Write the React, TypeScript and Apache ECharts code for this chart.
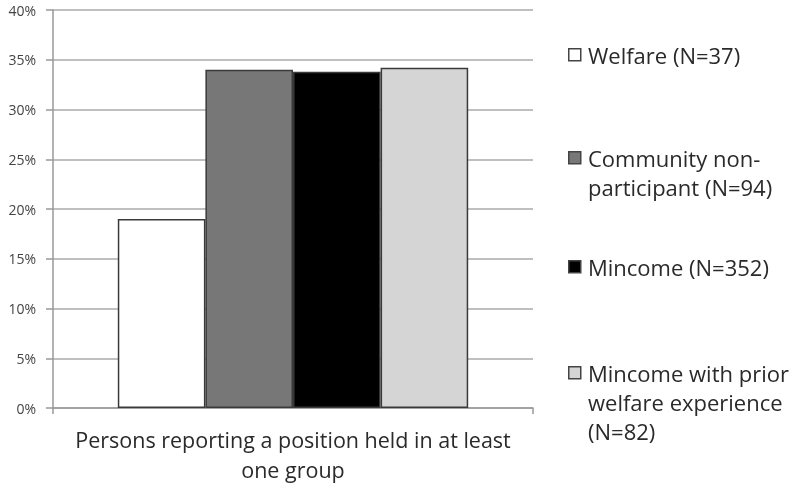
import React, { useEffect, useRef } from "react";
import * as echarts from "echarts";

const categories = ["Persons reporting a position held in at least\none group"];
const seriesNames = [
  "Welfare (N=37)",
  "Community non-\nparticipant (N=94)",
  "Mincome (N=352)",
  "Mincome with prior\nwelfare experience\n(N=82)",
];
const seriesValues = [[0.19], [0.34], [0.338], [0.342]];
const seriesColors = ["#ffffff", "#777777", "#000000", "#d5d5d5"];
const legendTops = [55, 158, 267, 373];

export default function App() {
  const ref = useRef<HTMLDivElement>(null);
  useEffect(() => {
    if (!ref.current) return;
    const chart = echarts.init(ref.current, undefined, { renderer: "svg" });
    const font = "'Open Sans', sans-serif";
    const graphics: any[] = [];
    seriesNames.forEach((name, i) => {
      graphics.push({
        type: "rect",
        left: 568,
        top: legendTops[i] - 7,
        shape: { width: 12, height: 12 },
        style: { fill: seriesColors[i], stroke: "#444", lineWidth: 1.5 },
      });
      graphics.push({
        type: "text",
        left: 588,
        top: legendTops[i] - 14.5,
        style: {
          text: name,
          fill: "#2a2a2a",
          font: `22px ${font}`,
          lineHeight: 29,
        },
      });
    });
    chart.setOption({
      animation: false,
      textStyle: { fontFamily: font },
      grid: { left: 53, right: 266, top: 10, bottom: 76, containLabel: false },
      xAxis: {
        type: "category",
        data: categories,
        axisLine: { lineStyle: { color: "#999", width: 1.5 } },
        axisTick: { show: true, length: 6, lineStyle: { color: "#999", width: 1.5 } },
        axisLabel: {
          color: "#2a2a2a",
          fontSize: 21.5,
          lineHeight: 30,
          margin: 16,
          fontFamily: font,
        },
      },
      yAxis: {
        type: "value",
        min: 0,
        max: 0.4,
        interval: 0.05,
        axisLine: { show: true, lineStyle: { color: "#999", width: 1.5 } },
        axisTick: { show: true, length: 7, lineStyle: { color: "#999", width: 1.5 } },
        splitLine: { lineStyle: { color: "#aaa", width: 1.5 } },
        axisLabel: {
          color: "#444",
          fontSize: 14,
          margin: 17,
          fontFamily: font,
          formatter: (v: number) => `${Math.round(v * 100)}%`,
        },
      },
      series: seriesNames.map((name, i) => ({
        type: "bar",
        name,
        data: seriesValues[i],
        barGap: "0%",
        barCategoryGap: "27%",
        itemStyle: { color: seriesColors[i], borderColor: "#3a3a3a", borderWidth: 1.5 },
      })),
      graphic: graphics,
    });
    return () => chart.dispose();
  }, []);
  return (
    <div
      ref={ref}
      style={{ position: "fixed", left: 0, top: 0, width: 799, height: 484 }}
    />
  );
}
